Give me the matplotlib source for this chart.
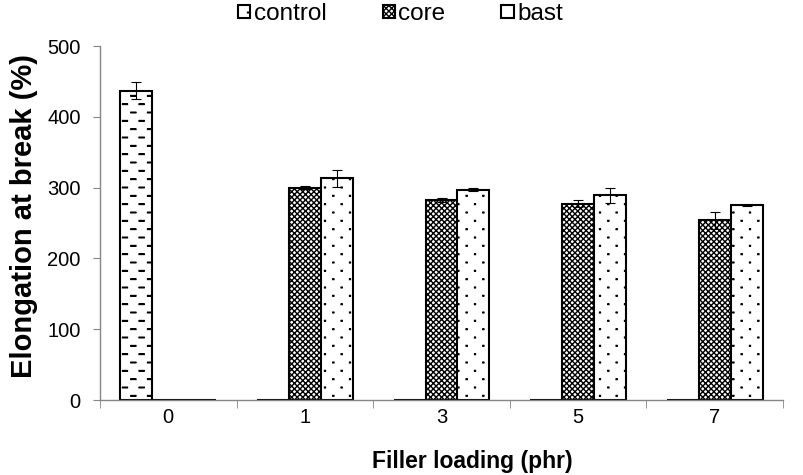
import warnings
import numpy as np
import matplotlib
matplotlib.use('Agg')
import matplotlib.pyplot as plt
import matplotlib.hatch as mhatch
from matplotlib.path import Path

loading = ['0', '1', '3', '5', '7']
control = [437, 0, 0, 0, 0]
control_err = [12, 0, 0, 0, 0]
core = [0, 300, 282, 277, 254]
core_err = [0, 2, 3, 5, 12]
bast = [0, 313, 297, 289, 275]
bast_err = [0, 12, 2, 11, 1]


def seg_hatch(char, segs):
    # hatch made of plain line segments, switched on by one letter
    segs = np.asarray(segs, float).reshape(-1, 2)

    class SegHatch(mhatch.HatchPatternBase):
        def __init__(self, hatch, density):
            self.num_vertices = len(segs) if char in hatch else 0

        def set_vertices_and_codes(self, vertices, codes):
            vertices[:] = segs
            codes[0::2] = Path.MOVETO
            codes[1::2] = Path.LINETO
    return SegHatch


def staggered(rows, cols, half, thick):
    # rows of short marks, every other row shifted by half a period
    segs = []
    for r in range(rows):
        y = (r + 0.5) / rows
        if r % 2 == 0:
            xs = np.arange(cols + 1) / cols
        else:
            xs = (np.arange(cols) + 0.5) / cols
        for xc in xs:
            segs += [(xc - half, y - thick), (xc + half, y - thick)]
            segs += [(xc - half, y + thick), (xc + half, y + thick)]
    return segs


mhatch._hatch_types.append(seg_hatch('d', staggered(12, 6, 0.024, 0.003)))
mhatch._hatch_types.append(seg_hatch('p', staggered(12, 6, 0.004, 0.004)))
warnings.filterwarnings('ignore', category=matplotlib.MatplotlibDeprecationWarning)

plt.rcParams['font.family'] = ['Liberation Sans', 'DejaVu Sans']
plt.rcParams['hatch.color'] = 'black'
plt.rcParams['hatch.linewidth'] = 1.0

gray = '#868686'
fig = plt.figure(figsize=(8.04, 4.75), dpi=100)
ax = fig.add_axes([100 / 804, 75 / 475, 683 / 804, 354 / 475])

x = np.arange(len(loading))
w = 0.234
series = [(control, control_err, 'd', 'control'),
          (core, core_err, 'xxxxxx', 'core'),
          (bast, bast_err, 'p', 'bast')]
for i, (vals, errs, hatch, label) in enumerate(series):
    pos = x + (i - 1) * w
    vals = np.array(vals)
    errs = np.array(errs)
    ax.bar(pos, vals, w, color='white', edgecolor='black', linewidth=1.5,
           hatch=hatch, label=label, zorder=2)
    keep = vals > 0
    ax.errorbar(pos[keep], vals[keep], yerr=errs[keep], fmt='none',
                ecolor='black', elinewidth=0.8, capsize=3.5, capthick=0.8,
                zorder=3)

for s in ['top', 'right']:
    ax.spines[s].set_visible(False)
for s in ['left', 'bottom']:
    ax.spines[s].set_color(gray)
    ax.spines[s].set_linewidth(1)
    ax.spines[s].set_zorder(4)

ax.set_xlim(-0.5, 4.5)
ax.set_ylim(0, 500)
ax.set_yticks(range(0, 501, 100))
ax.set_xticks(x)
ax.set_xticklabels(loading)
ax.set_xticks(np.arange(-0.5, 5, 1), minor=True)
ax.tick_params(axis='x', which='major', length=0, pad=6, labelsize=14.5)
ax.tick_params(axis='x', which='minor', length=6, color=gray, direction='out')
ax.tick_params(axis='y', length=5, color=gray, labelsize=14.5, pad=9)

ax.set_xlabel('Filler loading (phr)', fontsize=16.5, fontweight='bold')
ax.xaxis.set_label_coords(0.545, -0.142)
ax.set_ylabel('Elongation at break (%)', fontsize=21, fontweight='bold')
ax.yaxis.set_label_coords(-0.0908, 0.52)

ax.legend(loc='center', bbox_to_anchor=(0.44, 1.09), ncol=3, frameon=False,
          fontsize=17.5, handlelength=0.5, handleheight=0.5,
          handletextpad=0.15, columnspacing=2.3, borderpad=0)

fig.savefig('out.png', dpi=100)
